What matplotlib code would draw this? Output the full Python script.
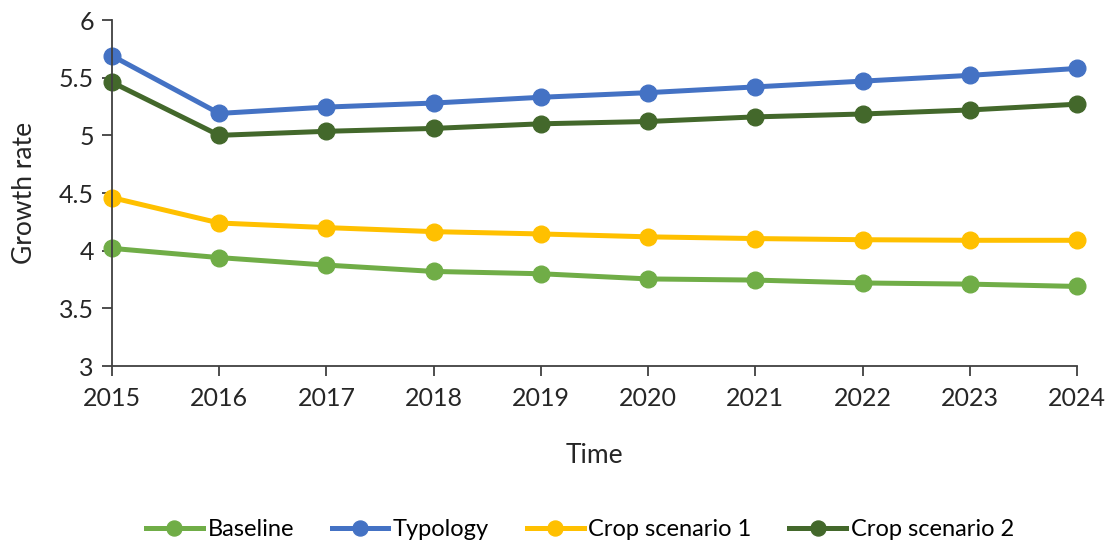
# -------------------------------------------------------------------------------------
# Libraries
import matplotlib
matplotlib.use('Agg')
import matplotlib.pyplot as plt
# -------------------------------------------------------------------------------------

# -------------------------------------------------------------------------------------
# Data
years = [2015, 2016, 2017, 2018, 2019, 2020, 2021, 2022, 2023, 2024]
baseline = [4.02, 3.94, 3.875, 3.82, 3.80, 3.755, 3.745, 3.72, 3.71, 3.69]
typology = [5.69, 5.19, 5.245, 5.28, 5.33, 5.37, 5.42, 5.47, 5.52, 5.58]
crop_s1 = [4.46, 4.24, 4.20, 4.165, 4.145, 4.12, 4.105, 4.095, 4.09, 4.09]
crop_s2 = [5.46, 5.00, 5.035, 5.06, 5.10, 5.12, 5.16, 5.185, 5.22, 5.27]

series_names = ['Baseline', 'Typology', 'Crop scenario 1', 'Crop scenario 2']
series_colors = ['#70AD47', '#4472C4', '#FFC000', '#43682B']
y_ticks = [3, 3.5, 4, 4.5, 5, 5.5, 6]
# -------------------------------------------------------------------------------------

plt.rcParams['font.family'] = ['Lato', 'DejaVu Sans']

fig = plt.figure(figsize=(11.11, 5.48), dpi=100)
ax = fig.add_axes([0.1008, 0.3321, 0.8686, 0.6314])

for values, name, color in zip([baseline, typology, crop_s1, crop_s2], series_names, series_colors):
    ax.plot(years, values, color=color, lw=3.6, marker='o', ms=12, label=name, clip_on=False)

ax.set_xlim(years[0], years[-1])
ax.set_ylim(3, 6)
ax.set_xticks(years)
ax.set_yticks(y_ticks)
ax.set_yticklabels([f'{v:g}' for v in y_ticks])

for side in ['top', 'right']:
    ax.spines[side].set_visible(False)
for side in ['left', 'bottom']:
    ax.spines[side].set_color('#404040')
    ax.spines[side].set_linewidth(1.3)

ax.tick_params(axis='both', colors='#404040', labelcolor='#262626', labelsize=18,
               length=7, width=1.3, direction='out')
ax.tick_params(axis='x', pad=8)
ax.tick_params(axis='y', pad=6)

ax.set_xlabel('Time', fontsize=19, color='#262626', labelpad=24)
ax.set_ylabel('Growth rate', fontsize=19, color='#262626', labelpad=16)

fig.legend(loc='lower center', bbox_to_anchor=(0.522, -0.025), ncol=4, frameon=False,
           fontsize=17, handlelength=2.4, handletextpad=0.2, columnspacing=1.6,
           markerscale=0.9)

fig.savefig('out.png', dpi=100)
